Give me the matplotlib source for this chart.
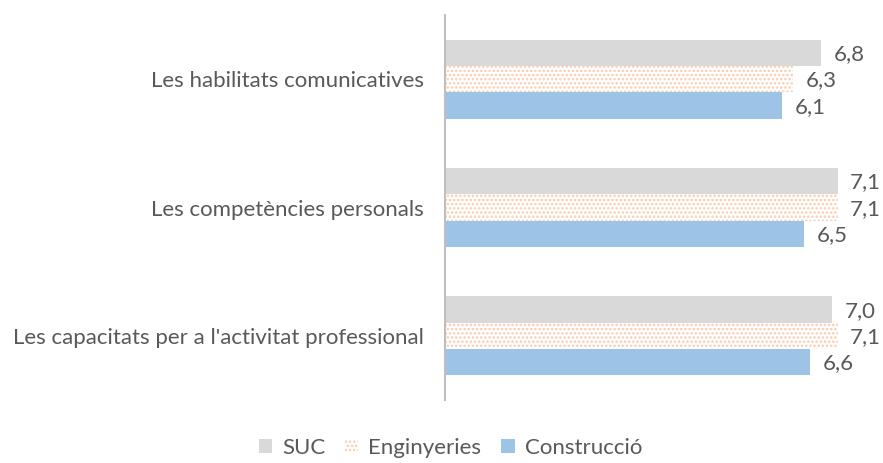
import matplotlib.pyplot as plt
import numpy as np

plt.rcParams['font.family'] = ['Lato', 'DejaVu Sans']
plt.rcParams['hatch.linewidth'] = 1.2

categories = ["Les habilitats comunicatives",
              "Les competències personals",
              "Les capacitats per a l'activitat professional"]
series = ["SUC", "Enginyeries", "Construcció"]
suc = [6.8, 7.1, 7.0]
enginyeries = [6.3, 7.1, 7.1]
construccio = [6.1, 6.5, 6.6]

values = [suc, enginyeries, construccio]
faces = ['#D9D9D9', 'white', '#9DC3E6']
edges = ['#D9D9D9', '#F8CBAD', '#9DC3E6']
hatches = [None, '....', None]
text_color = '#595959'

fig = plt.figure(figsize=(8.83, 4.63), dpi=100)
ax = fig.add_axes([445 / 883, 1 - 400 / 463, 438 / 883, 385 / 463])

y = np.arange(len(categories))
h = 0.205
offsets = [-h, 0, h]
for vals, off, fc, ec, hat, name in zip(values, offsets, faces, edges, hatches, series):
    bars = ax.barh(y + off, vals, height=h, color=fc, edgecolor=ec,
                   hatch=hat, linewidth=0, label=name)
    for b, v in zip(bars, vals):
        ax.annotate(f"{v:.1f}".replace('.', ','),
                    (b.get_width(), b.get_y() + b.get_height() / 2),
                    xytext=(9, -1), textcoords='offset points',
                    va='center', ha='left', fontsize=16, color=text_color)

ax.set_xlim(0, 7.92)
ax.set_ylim(2.5, -0.5)
ax.set_yticks(y)
ax.set_yticklabels(categories, fontsize=16, color=text_color)
ax.tick_params(axis='y', length=0, pad=15)
ax.set_xticks([])
for s in ['top', 'right', 'bottom']:
    ax.spines[s].set_visible(False)
ax.spines['left'].set_color('#BFBFBF')
ax.spines['left'].set_linewidth(1.5)

fig.legend(loc='lower center', bbox_to_anchor=(0.51, -0.032), ncol=3,
           frameon=False, fontsize=16, handlelength=0.6, handleheight=0.6,
           handletextpad=0.45, columnspacing=0.9, labelcolor=text_color)

fig.savefig('out.png', dpi=100)
